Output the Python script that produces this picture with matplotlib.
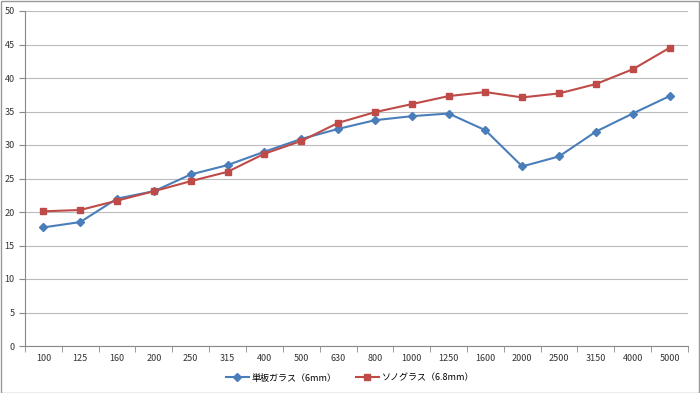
import matplotlib
matplotlib.use("Agg")
import matplotlib.pyplot as plt
from matplotlib.patches import Rectangle

plt.rcParams['font.family'] = ['Noto Sans CJK JP', 'DejaVu Sans']

freqs = ["100", "125", "160", "200", "250", "315", "400", "500", "630", "800",
         "1000", "1250", "1600", "2000", "2500", "3150", "4000", "5000"]
single_glass = [17.7, 18.5, 22.0, 23.1, 25.6, 27.0, 29.0, 30.9, 32.4, 33.7,
                34.3, 34.7, 32.2, 26.8, 28.3, 32.0, 34.7, 37.3]
sono_glass = [20.1, 20.3, 21.7, 23.1, 24.6, 26.0, 28.7, 30.6, 33.3, 34.9,
              36.1, 37.3, 37.9, 37.1, 37.7, 39.1, 41.3, 44.5]
labels = ["単板ガラス（6mm）", "ソノグラス（6.8mm）"]

fig = plt.figure(figsize=(7, 3.93), dpi=100)
ax = fig.add_axes([25 / 700, 1 - 346 / 393, 663 / 700, 335 / 393])

x = range(len(freqs))
ax.plot(x, single_glass, color='#4a7ebb', lw=1.5, marker='D', ms=4, label=labels[0])
ax.plot(x, sono_glass, color='#be4b48', lw=1.5, marker='s', ms=5, label=labels[1])

ax.set_xlim(-0.5, len(freqs) - 0.5)
ax.set_ylim(0, 50)
ax.set_yticks(range(0, 51, 5))
ax.set_xticks(list(x))
ax.set_xticklabels(freqs)
ax.set_xticks([i + 0.5 for i in range(-1, len(freqs))], minor=True)
ax.tick_params(axis='x', which='major', length=0, labelsize=6.5, colors='#333333', pad=6)
ax.tick_params(axis='x', which='minor', length=4, color='#888888')
ax.tick_params(axis='y', length=4, labelsize=6.5, colors='#333333', direction='out')
ax.tick_params(axis='y', color='#888888')
ax.grid(axis='y', color='#bbbbbb', lw=0.8)
ax.set_axisbelow(True)
for s in ['top', 'right']:
    ax.spines[s].set_visible(False)
ax.spines['left'].set_color('#888888')
ax.spines['bottom'].set_color('#888888')

fig.legend(loc='center', bbox_to_anchor=(0.5, 1 - 378 / 393), ncol=2, frameon=False,
           fontsize=6.5, handlelength=2.5, handletextpad=0.3, columnspacing=2.2)

fig.patches.append(Rectangle((0.001, 0.001), 0.997, 0.997, transform=fig.transFigure,
                             fill=False, edgecolor='#999999', lw=1))

fig.savefig("out.png", dpi=100)
